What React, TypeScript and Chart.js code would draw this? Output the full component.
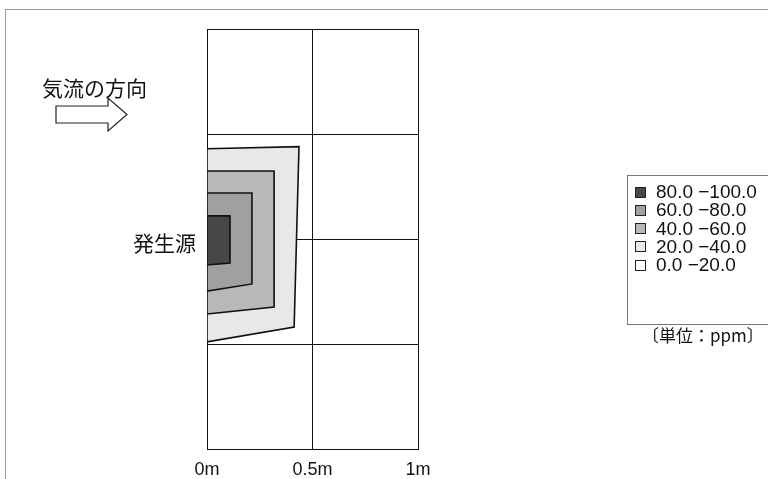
import React, { useEffect, useRef } from "react";
import { Chart, registerables } from "chart.js";

Chart.register(...registerables);

// Axis ticks
const xTickValues = [0, 0.5, 1];
const xTickLabels = ["0m", "0.5m", "1m"];
const yTickValues = [0, 0.5, 1, 1.5, 2];

// Contour polygons (x in m from source wall, y in m from bottom)
const band20x = [0, 0.436, 0.413, 0, 0];
const band20y = [1.43, 1.44, 0.581, 0.51, 1.43];
const band40x = [0, 0.318, 0.318, 0, 0];
const band40y = [1.324, 1.324, 0.676, 0.643, 1.324];
const band60x = [0, 0.213, 0.213, 0, 0];
const band60y = [1.219, 1.219, 0.786, 0.752, 1.219];
const band80x = [0, 0.109, 0.109, 0, 0];
const band80y = [1.11, 1.11, 0.886, 0.876, 1.11];

// Legend
const legendLabels = ["80.0 −100.0", "60.0 −80.0", "40.0 −60.0", "20.0 −40.0", "0.0 −20.0"];
const legendColors = ["#474747", "#a0a0a0", "#b8b8b8", "#e8e8e8", "#ffffff"];
const unitLabel = "〔単位：ppm〕";
const flowLabel = "気流の方向";
const sourceLabel = "発生源";

const toPoints = (xs: number[], ys: number[]) => xs.map((x, i) => ({ x, y: ys[i] }));

const FONT = '"Noto Sans CJK JP", "Noto Sans", sans-serif';
const NUMFONT = '"Liberation Sans", Arial, sans-serif';

export default function App() {
  const canvasRef = useRef<HTMLCanvasElement | null>(null);

  useEffect(() => {
    if (!canvasRef.current) return;
    const bands = [
      { xs: band80x, ys: band80y, color: legendColors[0] },
      { xs: band60x, ys: band60y, color: legendColors[1] },
      { xs: band40x, ys: band40y, color: legendColors[2] },
      { xs: band20x, ys: band20y, color: legendColors[3] },
    ];
    const chart = new Chart(canvasRef.current, {
      type: "scatter",
      data: {
        datasets: bands.map((b, i) => ({
          data: toPoints(b.xs, b.ys),
          showLine: true,
          fill: "shape",
          backgroundColor: b.color,
          borderColor: "#111",
          borderWidth: 1.6,
          pointRadius: 0,
          tension: 0,
          order: i,
        })),
      },
      options: {
        responsive: false,
        animation: false,
        layout: { padding: { left: 207, right: 350, top: 29, bottom: 2 } },
        plugins: { legend: { display: false }, tooltip: { enabled: false } },
        scales: {
          x: {
            type: "linear",
            min: 0,
            max: 1,
            z: 1,
            afterBuildTicks: (axis: any) => {
              axis.ticks = xTickValues.map((v) => ({ value: v }));
            },
            afterFit: (axis: any) => {
              axis.height = 28;
            },
            ticks: {
              padding: 10,
              color: "#111",
              font: { family: NUMFONT, size: 18 },
              callback: (v: any) => xTickLabels[xTickValues.indexOf(Number(v))] ?? "",
            },
            grid: { color: "#111", lineWidth: 1, drawTicks: false },
            border: { color: "#111", width: 1 },
          },
          y: {
            type: "linear",
            min: 0,
            max: 2,
            z: 1,
            afterBuildTicks: (axis: any) => {
              axis.ticks = yTickValues.map((v) => ({ value: v }));
            },
            ticks: { display: false },
            grid: { color: "#111", lineWidth: 1, drawTicks: false },
            border: { color: "#111", width: 1 },
          },
          x2: {
            type: "linear",
            position: "top",
            min: 0,
            max: 1,
            display: true,
            ticks: { display: false },
            grid: { display: false, drawTicks: false },
            border: { color: "#111", width: 1 },
          },
          y2: {
            type: "linear",
            position: "right",
            min: 0,
            max: 2,
            display: true,
            ticks: { display: false },
            grid: { display: false, drawTicks: false },
            border: { color: "#111", width: 1 },
          },
        },
      } as any,
    });
    return () => chart.destroy();
  }, []);

  return (
    <div
      style={{
        position: "fixed",
        left: 0,
        top: 0,
        width: 768,
        height: 479,
        background: "#fff",
        overflow: "hidden",
        fontFamily: FONT,
      }}
    >
      <div
        style={{
          position: "absolute",
          left: 5,
          top: 9,
          width: 800,
          height: 500,
          borderLeft: "1px solid #9a9a9a",
          borderTop: "1px solid #9a9a9a",
        }}
      />
      <canvas ref={canvasRef} width={768} height={479} style={{ position: "absolute", left: 0, top: 0 }} />
      <div style={{ position: "absolute", left: 42, top: 75, fontSize: 21, lineHeight: "24px", color: "#111", whiteSpace: "nowrap" }}>
        {flowLabel}
      </div>
      <svg width={768} height={479} style={{ position: "absolute", left: 0, top: 0, pointerEvents: "none" }}>
        <polygon
          points="56,106 108,106 108,98 127,114.5 108,131 108,123 56,123"
          fill="#fff"
          stroke="#222"
          strokeWidth={1.2}
        />
      </svg>
      <div style={{ position: "absolute", left: 133, top: 230, fontSize: 21, lineHeight: "24px", color: "#111", whiteSpace: "nowrap" }}>
        {sourceLabel}
      </div>
      <div
        style={{
          position: "absolute",
          left: 627,
          top: 175,
          width: 170,
          height: 148,
          border: "1px solid #777",
        }}
      >
        {legendLabels.map((lab, i) => (
          <div
            key={lab}
            style={{
              position: "absolute",
              left: 7,
              top: 7 + i * 18.3,
              height: 18,
              display: "flex",
              alignItems: "center",
              whiteSpace: "nowrap",
            }}
          >
            <span
              style={{
                display: "inline-block",
                width: 9,
                height: 9,
                border: "1px solid #222",
                background: legendColors[i],
                marginRight: 10,
              }}
            />
            <span style={{ fontSize: 19, color: "#111", lineHeight: "18px", fontFamily: NUMFONT }}>{lab}</span>
          </div>
        ))}
      </div>
      <div style={{ position: "absolute", left: 642, top: 324, fontSize: 17, lineHeight: "22px", color: "#111", whiteSpace: "nowrap" }}>
        {unitLabel}
      </div>
    </div>
  );
}
